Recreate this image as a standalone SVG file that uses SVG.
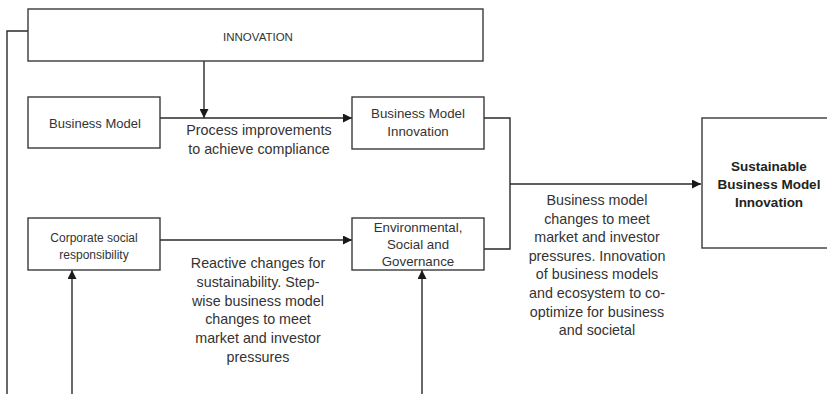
<svg xmlns="http://www.w3.org/2000/svg" width="827" height="394" viewBox="0 0 827 394">
<style>
.box{fill:#fff;stroke:#3a3a3a;stroke-width:1.4}
.ln{fill:none;stroke:#2a2a2a;stroke-width:1.4}
text{font-family:"Liberation Sans",Arial,sans-serif;fill:#333;text-anchor:middle}
.lbl{font-size:14.3px}
.b{font-weight:bold;font-size:13.5px;fill:#222}
</style>
<defs>
<marker id="ah" viewBox="0 0 10 10" refX="10" refY="5" markerWidth="10" markerHeight="9" markerUnits="userSpaceOnUse" orient="auto">
<path d="M0,0 L10,5 L0,10 z" fill="#1a1a1a"/>
</marker>
</defs>
<rect width="827" height="394" fill="#fff"/>
<g id="connectors">
<path class="ln" d="M28,31 H7 V394"/>
<path class="ln" d="M204,61 V118" marker-end="url(#ah)"/>
<path class="ln" d="M160,118 H352" marker-end="url(#ah)"/>
<path class="ln" d="M160,240 H352" marker-end="url(#ah)"/>
<path class="ln" d="M484,118 H510 V249 H484"/>
<path class="ln" d="M510,184 H701" marker-end="url(#ah)"/>
<path class="ln" d="M72,394 V270" marker-end="url(#ah)"/>
<path class="ln" d="M422,394 V270" marker-end="url(#ah)"/>
</g>
<g id="innovation">
<rect class="box" x="28" y="9" width="455" height="52"/>
<text x="258" y="41" font-size="11.5">INNOVATION</text>
</g>
<g id="business-model">
<rect class="box" x="28" y="97" width="132" height="51"/>
<text x="95" y="127.5" font-size="13">Business Model</text>
</g>
<g id="bmi">
<rect class="box" x="352" y="97" width="132" height="52"/>
<text x="418" y="118" font-size="13.3">Business Model</text>
<text x="418" y="136" font-size="13.3">Innovation</text>
</g>
<g id="csr">
<rect class="box" x="28" y="218" width="132" height="52"/>
<text x="94" y="242" font-size="12">Corporate social</text>
<text x="94" y="259" font-size="12">responsibility</text>
</g>
<g id="esg">
<rect class="box" x="352" y="218" width="132" height="52"/>
<text x="418" y="232" font-size="13.3">Environmental,</text>
<text x="418" y="249" font-size="13.3">Social and</text>
<text x="418" y="266" font-size="13.3">Governance</text>
</g>
<g id="sbmi">
<rect class="box" x="702" y="118" width="140" height="130"/>
<text class="b" x="769" y="171">Sustainable</text>
<text class="b" x="769" y="189">Business Model</text>
<text class="b" x="769" y="207">Innovation</text>
</g>
<g id="labels">
<text class="lbl" x="259" y="135">Process improvements</text>
<text class="lbl" x="259" y="154">to achieve compliance</text>
<text class="lbl" x="258" y="268">Reactive changes for</text>
<text class="lbl" x="258" y="287">sustainability. Step-</text>
<text class="lbl" x="258" y="305.5">wise business model</text>
<text class="lbl" x="258" y="324">changes to meet</text>
<text class="lbl" x="258" y="343">market and investor</text>
<text class="lbl" x="258" y="361.5">pressures</text>
<text class="lbl" x="597" y="205">Business model</text>
<text class="lbl" x="597" y="223.6">changes to meet</text>
<text class="lbl" x="597" y="242.2">market and investor</text>
<text class="lbl" x="597" y="260.8">pressures. Innovation</text>
<text class="lbl" x="597" y="279.4">of business models</text>
<text class="lbl" x="597" y="298">and ecosystem to co-</text>
<text class="lbl" x="597" y="316.6">optimize for business</text>
<text class="lbl" x="597" y="335.2">and societal</text>
</g>
</svg>
